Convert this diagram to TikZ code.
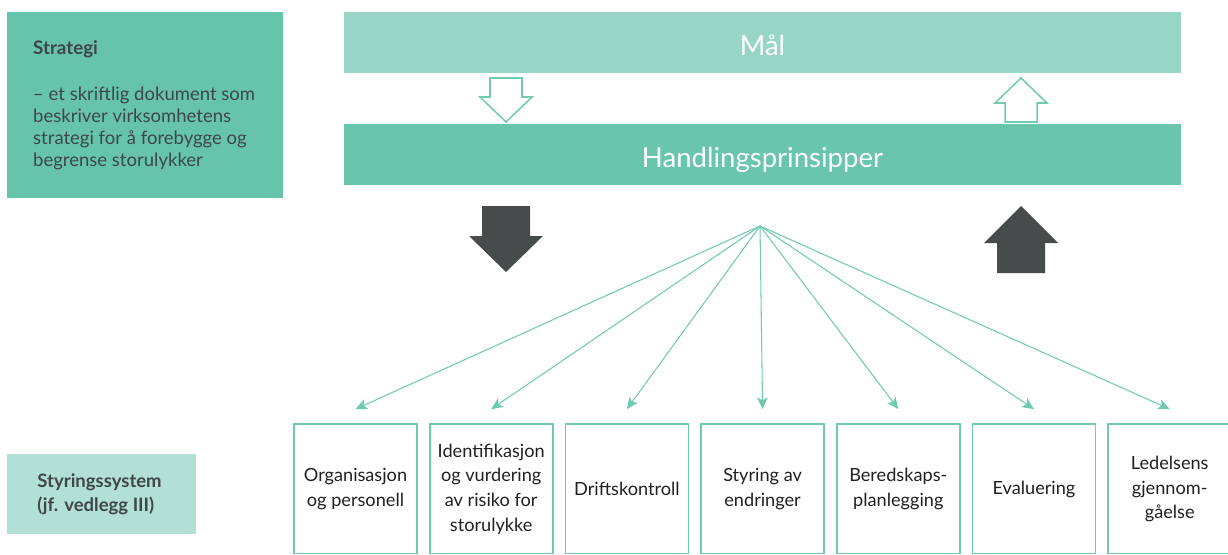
\documentclass[tikz,border=0pt]{standalone}
\usepackage{fontspec}
\setmainfont{Lato}
\usetikzlibrary{arrows.meta,positioning}
\definecolor{stratfill}{HTML}{66C4AA}
\definecolor{malfill}{HTML}{97D6C4}
\definecolor{handfill}{HTML}{69C5AC}
\definecolor{sysfill}{HTML}{B2E0D5}
\definecolor{linjeteal}{HTML}{6FCBB0}
\definecolor{pilgra}{HTML}{474B4C}
\definecolor{tekstgra}{HTML}{3F4747}
\definecolor{tekstsort}{HTML}{231F20}
\tikzset{
  bar/.style={fill=#1, minimum width=25.11cm, minimum height=1.83cm, inner sep=0pt,
    text height=22pt, text depth=0pt,
    text=white, font=\fontsize{23.5}{28}\selectfont},
  infobox/.style={fill=#1, inner sep=0pt},
  infotext/.style={align=left, text=tekstgra, inner sep=0pt},
  elementbox/.style={draw=linjeteal, line width=1.4pt, minimum width=3.69cm, minimum height=3.9cm,
    inner sep=0pt, align=center, text=tekstsort, font=\fontsize{15.5}{21}\selectfont},
  fan/.style={draw=linjeteal, line width=0.9pt, -{Stealth[length=10pt, width=9pt, inset=2.5pt]}},
  hollowarrow/.style={draw=linjeteal, line width=1.3pt, fill=white},
  darkarrow/.style={fill=pilgra}
}
\begin{document}
\begin{tikzpicture}[x=0.03cm, y=-0.03cm]
  \useasboundingbox (0,0) rectangle (1228,554);
  \clip (0,0) rectangle (1228,553);

  % venstre side
  \node[infobox=stratfill, minimum width=8.28cm, minimum height=5.58cm] (strategi) at (145,105) {};
  \node[infotext, anchor=base west, font=\fontsize{16}{19}\selectfont\bfseries]
    (strategitittel) at (33,54) {Strategi};
  \node[infotext, anchor=north west, font=\fontsize{15.8}{18.7}\selectfont]
    (strategitekst) at (33,87)
    {– et skriftlig dokument som\\
     beskriver virksomhetens\\
     strategi for å forebygge og\\
     begrense storulykker};
  \node[infobox=sysfill, minimum width=5.67cm, minimum height=2.4cm] (system) at (101.5,494) {};
  \node[infotext, anchor=west, font=\fontsize{15.8}{20.5}\selectfont\bfseries]
    (systemtekst) at ([xshift=26pt]system.west)
    {Styringssystem\\(jf. vedlegg III)};

  % mål og prinsipper
  \node[bar=malfill] (mal) at (762.5,42.5) {Mål};
  \node[bar=handfill] (prinsipper) at (762.5,154.5) {Handlingsprinsipper};

  % hule piler
  \draw[hollowarrow] (490,78) -- (522,78) -- (522,97) -- (532,97) -- (506,122)
    -- (480,97) -- (490,97) -- cycle;
  \draw[hollowarrow] (1005,122) -- (1037,122) -- (1037,103) -- (1047,103) -- (1021,78)
    -- (995,103) -- (1005,103) -- cycle;

  % mørke piler
  \fill[darkarrow] (482,206) -- (530,206) -- (530,236) -- (543,236) -- (506,272)
    -- (469,236) -- (482,236) -- cycle;
  \fill[darkarrow] (997,273) -- (1045,273) -- (1045,243) -- (1058,243) -- (1021,206)
    -- (984,243) -- (997,243) -- cycle;

  % elementer i styringssystemet
  \foreach \i/\txt in {1/{Organisasjon\\og personell},
                       2/{Identifikasjon\\og vurdering\\av risiko for\\storulykke},
                       3/{Driftskontroll},
                       4/{Styring av\\endringer},
                       5/{Beredskaps-\\planlegging},
                       6/{Evaluering},
                       7/{Ledelsens\\gjennom-\\gåelse}}
    \node[elementbox] (e\i) at ({355.5+(\i-1)*135.7},489) {\txt};

  \coordinate (nav) at (760,226);
  \foreach \i in {1,...,7}
    \draw[fan] (nav) -- ([yshift=12pt]e\i.north);
\end{tikzpicture}
\end{document}
